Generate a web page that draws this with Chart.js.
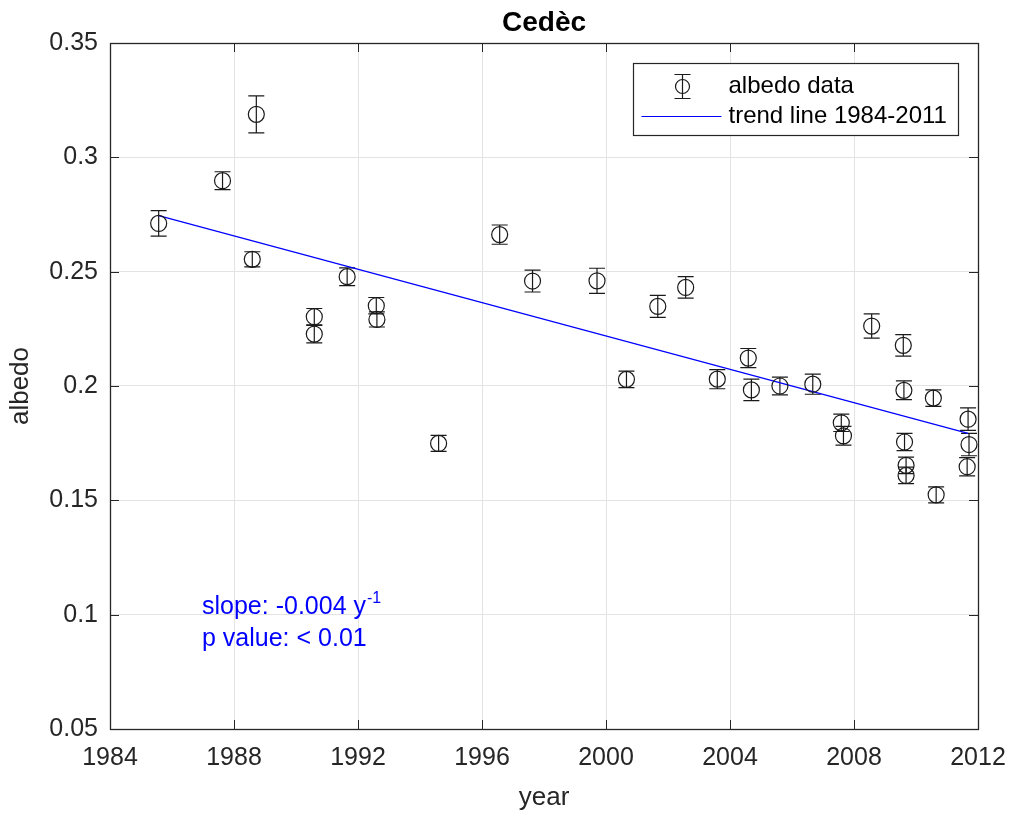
<!DOCTYPE html>
<html>
<head>
<meta charset="utf-8">
<script src="https://cdn.jsdelivr.net/npm/chart.js@4.4.1/dist/chart.umd.min.js"></script>
<style>
  html, body { margin: 0; padding: 0; background: #ffffff; }
  #wrap { width: 1011px; height: 817px; position: relative; }
</style>
</head>
<body>
<div id="wrap"><canvas id="c" width="1011" height="817"></canvas></div>
<script>
// Albedo measurements (year, value, half-width of error bar)
const years = [
  1985.57, 1987.63, 1988.72, 1988.59, 1990.59, 1990.59, 1991.65, 1992.59, 1992.61,
  1994.60, 1996.57, 1997.63, 1999.71, 2000.66, 2001.67, 2002.57, 2003.59, 2004.59,
  2004.69, 2005.61, 2006.67, 2007.59, 2007.66, 2008.57, 2009.59, 2009.61, 2009.63,
  2009.68, 2009.68, 2010.56, 2010.65, 2011.68, 2011.71, 2011.65
];
const albedo = [
  0.2711, 0.2898, 0.3188, 0.2554, 0.2303, 0.2227, 0.2478, 0.2351, 0.2291,
  0.1749, 0.2662, 0.2459, 0.2460, 0.2029, 0.2348, 0.2431, 0.2030, 0.2122,
  0.1983, 0.2000, 0.2008, 0.1839, 0.1782, 0.2262, 0.2178, 0.1981, 0.1755,
  0.1653, 0.1609, 0.1947, 0.1524, 0.1855, 0.1744, 0.1647
];
const albedoErr = [
  0.0056, 0.0039, 0.0081, 0.0033, 0.0036, 0.0038, 0.0039, 0.0036, 0.0033,
  0.0035, 0.0042, 0.0048, 0.0055, 0.0036, 0.0048, 0.0047, 0.0042, 0.0042,
  0.0047, 0.0039, 0.0044, 0.0038, 0.0041, 0.0053, 0.0047, 0.0041, 0.0038,
  0.0036, 0.0036, 0.0036, 0.0035, 0.0049, 0.0049, 0.0040
];

// Trend line end points
const trendYears = [1985.57, 2011.68];
const trendAlbedo = [0.2745, 0.1793];

// Axis ticks
const xTicks = [1984, 1988, 1992, 1996, 2000, 2004, 2008, 2012];
const xTickLabels = ['1984', '1988', '1992', '1996', '2000', '2004', '2008', '2012'];
const yTicks = [0.05, 0.10, 0.15, 0.20, 0.25, 0.30, 0.35];
const yTickLabels = ['0.05', '0.1', '0.15', '0.2', '0.25', '0.3', '0.35'];

// Texts
const chartTitle = 'Cedèc';
const xTitle = 'year';
const yTitle = 'albedo';
const legendLabels = ['albedo data', 'trend line 1984-2011'];
const slopeText = 'slope: -0.004 y';
const slopeExp = '-1';
const pText = 'p value: < 0.01';

const FONT = "'Liberation Sans', Arial, Helvetica, sans-serif";
const AXIS_COLOR = '#262626';
const MARK_COLOR = '#1a1a1a';
const TREND_COLOR = '#0000ff';

const points = years.map((x, i) => ({ x: x, y: albedo[i], e: albedoErr[i] }));
const trend = trendYears.map((x, i) => ({ x: x, y: trendAlbedo[i] }));

function drawErrorBar(ctx, x, yTop, yBot, cap) {
  ctx.beginPath();
  ctx.moveTo(x, yTop); ctx.lineTo(x, yBot);
  ctx.moveTo(x - cap, yTop); ctx.lineTo(x + cap, yTop);
  ctx.moveTo(x - cap, yBot); ctx.lineTo(x + cap, yBot);
  ctx.stroke();
}

const errorBars = {
  id: 'errorBars',
  beforeDatasetsDraw(chart) {
    const { ctx, scales: { x, y } } = chart;
    ctx.save();
    ctx.strokeStyle = MARK_COLOR;
    ctx.lineWidth = 1.2;
    points.forEach(p => {
      const px = x.getPixelForValue(p.x);
      drawErrorBar(ctx, px, y.getPixelForValue(p.y + p.e), y.getPixelForValue(p.y - p.e), 8);
    });
    ctx.restore();
  }
};

const frameAndNotes = {
  id: 'frameAndNotes',
  afterDatasetsDraw(chart) {
    const { ctx, chartArea: a, scales: { x, y } } = chart;
    ctx.save();

    // axes box with inward tick marks
    ctx.strokeStyle = AXIS_COLOR;
    ctx.lineWidth = 1.3;
    ctx.strokeRect(Math.round(a.left) + 0.5, Math.round(a.top) + 0.5,
                   Math.round(a.right - a.left), Math.round(a.bottom - a.top));
    ctx.lineWidth = 1;
    ctx.beginPath();
    const tl = 9;
    xTicks.forEach(v => {
      const px = Math.round(x.getPixelForValue(v)) + 0.5;
      ctx.moveTo(px, a.bottom); ctx.lineTo(px, a.bottom - tl);
      ctx.moveTo(px, a.top); ctx.lineTo(px, a.top + tl);
    });
    yTicks.forEach(v => {
      const py = Math.round(y.getPixelForValue(v)) + 0.5;
      ctx.moveTo(a.left, py); ctx.lineTo(a.left + tl, py);
      ctx.moveTo(a.right, py); ctx.lineTo(a.right - tl, py);
    });
    ctx.stroke();

    // title, centred over the plot area
    ctx.fillStyle = '#000000';
    ctx.font = 'bold 28px ' + FONT;
    ctx.textAlign = 'center';
    ctx.textBaseline = 'middle';
    ctx.fillText(chartTitle, (a.left + a.right) / 2, a.top - 20);

    // legend
    const lw = 325, lh = 72;
    const lx = Math.round(a.right - 20 - lw) + 0.5;
    const ly = Math.round(a.top + 20) + 0.5;
    ctx.fillStyle = '#ffffff';
    ctx.fillRect(lx, ly, lw, lh);
    ctx.strokeStyle = AXIS_COLOR;
    ctx.lineWidth = 1.2;
    ctx.strokeRect(lx, ly, lw, lh);

    const row1 = ly + 23, row2 = ly + 53;
    const mx = lx + 49;
    ctx.strokeStyle = MARK_COLOR;
    ctx.lineWidth = 1.2;
    drawErrorBar(ctx, mx, row1 - 12, row1 + 12, 8);
    ctx.beginPath();
    ctx.arc(mx, row1, 7, 0, Math.PI * 2);
    ctx.stroke();

    ctx.strokeStyle = TREND_COLOR;
    ctx.lineWidth = 1.2;
    ctx.beginPath();
    ctx.moveTo(lx + 8, row2); ctx.lineTo(lx + 88, row2);
    ctx.stroke();

    ctx.fillStyle = '#000000';
    ctx.font = '24px ' + FONT;
    ctx.textBaseline = 'middle';
    ctx.textAlign = 'left';
    ctx.fillText(legendLabels[0], lx + 95, row1);
    ctx.fillText(legendLabels[1], lx + 95, row2);

    // regression statistics
    ctx.fillStyle = TREND_COLOR;
    ctx.textBaseline = 'alphabetic';
    ctx.font = '25px ' + FONT;
    const tx = a.left + 92;
    const b1 = a.top + 571, b2 = a.top + 603;
    ctx.fillText(slopeText, tx, b1);
    const w = ctx.measureText(slopeText).width;
    ctx.font = '16px ' + FONT;
    ctx.fillText(slopeExp, tx + w + 1, b1 - 11);
    ctx.font = '25px ' + FONT;
    ctx.fillText(pText, tx, b2);

    ctx.restore();
  }
};

new Chart(document.getElementById('c'), {
  type: 'scatter',
  data: {
    datasets: [
      {
        label: legendLabels[0],
        data: points,
        pointStyle: 'circle',
        pointRadius: 8,
        pointHoverRadius: 8,
        borderColor: MARK_COLOR,
        backgroundColor: 'rgba(0,0,0,0)',
        pointBorderWidth: 1.2,
        order: 1
      },
      {
        type: 'line',
        label: legendLabels[1],
        data: trend,
        borderColor: TREND_COLOR,
        borderWidth: 1.2,
        pointRadius: 0,
        fill: false,
        order: 2
      }
    ]
  },
  options: {
    responsive: false,
    animation: false,
    events: [],
    layout: { padding: { left: 0, right: 33, top: 43, bottom: 0 } },
    plugins: {
      legend: { display: false },
      tooltip: { enabled: false },
      title: { display: false }
    },
    scales: {
      x: {
        type: 'linear',
        min: 1984,
        max: 2012,
        afterBuildTicks: s => { s.ticks = xTicks.map(v => ({ value: v })); },
        afterFit: s => { s.height = 88; s.paddingLeft = 0; s.paddingRight = 0; },
        ticks: {
          color: AXIS_COLOR,
          font: { family: FONT, size: 25 },
          padding: 14,
          maxRotation: 0,
          autoSkip: false,
          callback: (v) => xTickLabels[xTicks.indexOf(v)]
        },
        grid: { color: '#e3e3e3', lineWidth: 1, drawTicks: false },
        border: { display: false },
        title: {
          display: true,
          text: xTitle,
          color: AXIS_COLOR,
          font: { family: FONT, size: 26 },
          padding: { top: 0, bottom: 4 }
        }
      },
      y: {
        type: 'linear',
        min: 0.05,
        max: 0.35,
        afterBuildTicks: s => { s.ticks = yTicks.map(v => ({ value: v })); },
        afterFit: s => { s.width = 110; s.paddingTop = 0; s.paddingBottom = 0; },
        ticks: {
          color: AXIS_COLOR,
          font: { family: FONT, size: 25 },
          padding: 12,
          autoSkip: false,
          callback: (v) => {
            const i = yTicks.findIndex(t => Math.abs(t - v) < 1e-9);
            return i >= 0 ? yTickLabels[i] : '';
          }
        },
        grid: { color: '#e3e3e3', lineWidth: 1, drawTicks: false },
        border: { display: false },
        title: {
          display: true,
          text: yTitle,
          color: AXIS_COLOR,
          font: { family: FONT, size: 26 },
          padding: { top: 5, bottom: 0 }
        }
      }
    }
  },
  plugins: [errorBars, frameAndNotes]
});
</script>
</body>
</html>
